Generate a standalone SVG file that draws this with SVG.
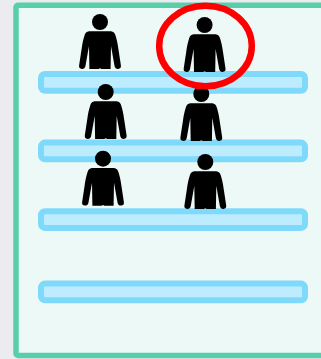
<svg xmlns="http://www.w3.org/2000/svg" width="321" height="359" viewBox="0 0 321 359">
<style>
.bg{fill:#ebebf0}
.frame{fill:#ecf9f6;stroke:#58cfa9;stroke-width:5.5}
.bar{fill:#bdecff;stroke:#7fd9fb;stroke-width:6}
.ring{fill:none;stroke:#ff0000;stroke-width:6.5}
</style>
<defs>
<g id="person">
<circle cx="0" cy="0" r="8"/>
<path d="M-11 9.3H11C13.4 9.6 14.8 11 15.5 13.5C16.6 17 17.6 21 18.4 27L20.9 43.5C21.2 45.6 20 46.8 18.2 46.9C16.2 47 15 46 14.6 44.3L11 24L10.6 47H1.5L0 46.2L-1.5 47H-10.6L-11 24L-14.6 44.3C-15 46-16.2 47-18.2 46.9C-20 46.8-21.2 45.6-20.9 43.5L-18.4 27C-17.6 21-16.6 17-15.5 13.5C-14.8 11-13.4 9.6-11 9.3Z"/>
</g>
</defs>
<rect class="bg" width="321" height="359"/>
<rect class="frame" x="16" y="5.3" width="320" height="350.2" rx="2"/>
<g id="shelf-1"><rect class="bar" x="41" y="74" width="264" height="16.7" rx="4"/></g>
<g id="shelf-2"><rect class="bar" x="41" y="142.6" width="264" height="16.7" rx="4"/></g>
<g id="shelf-3"><rect class="bar" x="41" y="211.2" width="264" height="16.7" rx="4"/></g>
<g id="shelf-4"><rect class="bar" x="41" y="283.6" width="264" height="16.7" rx="4"/></g>
<g id="person-1"><use href="#person" x="100" y="22"/></g>
<g id="person-2"><use href="#person" x="204.6" y="25"/></g>
<g id="person-3"><use href="#person" x="105.7" y="92"/></g>
<g id="person-4"><use href="#person" x="201.3" y="94"/></g>
<g id="person-5"><use href="#person" x="103" y="158.7"/></g>
<g id="person-6"><use href="#person" x="205.3" y="162"/></g>
<g id="highlight"><ellipse class="ring" cx="205.5" cy="46" rx="46.3" ry="40.2"/></g>
<g id="connectors"/>
</svg>
